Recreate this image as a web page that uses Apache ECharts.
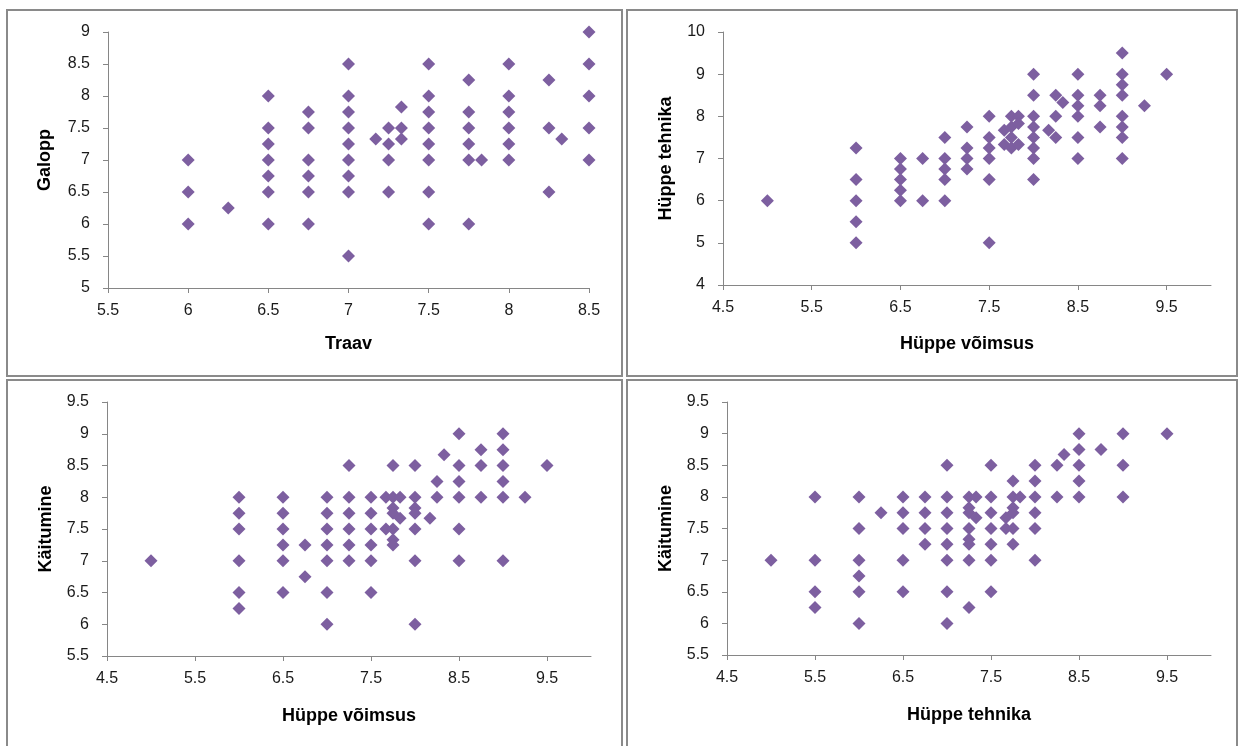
<!DOCTYPE html>
<html>
<head>
<meta charset="utf-8">
<title>Hobuste hinded</title>
<script src="https://cdn.jsdelivr.net/npm/echarts@6/dist/echarts.min.js"></script>
<style>
  html, body { margin: 0; padding: 0; background: #fff; }
  #chart { width: 1239px; height: 746px; }
</style>
</head>
<body>
<div id="chart"></div>
<script>
// Scatter data: [x, y] pairs for each of the four comparisons
const traavGalopp = [
  [6, 7], [6, 6.5], [6, 6],
  [6.25, 6.25],
  [6.5, 8], [6.5, 7.5], [6.5, 7.25], [6.5, 7], [6.5, 6.75], [6.5, 6.5], [6.5, 6],
  [6.75, 7.75], [6.75, 7.5], [6.75, 7], [6.75, 6.75], [6.75, 6.5], [6.75, 6],
  [7, 8.5], [7, 8], [7, 7.75], [7, 7.5], [7, 7.25], [7, 7], [7, 6.75], [7, 6.5], [7, 5.5],
  [7.17, 7.33],
  [7.25, 7.5], [7.25, 7.25], [7.25, 7], [7.25, 6.5],
  [7.33, 7.83], [7.33, 7.5], [7.33, 7.33],
  [7.5, 8.5], [7.5, 8], [7.5, 7.75], [7.5, 7.5], [7.5, 7.25], [7.5, 7], [7.5, 6.5], [7.5, 6],
  [7.75, 8.25], [7.75, 7.75], [7.75, 7.5], [7.75, 7.25], [7.75, 7], [7.75, 6],
  [7.83, 7],
  [8, 8.5], [8, 8], [8, 7.75], [8, 7.5], [8, 7.25], [8, 7],
  [8.25, 8.25], [8.25, 7.5], [8.25, 6.5],
  [8.33, 7.33],
  [8.5, 9], [8.5, 8.5], [8.5, 8], [8.5, 7.5], [8.5, 7]
];

const voimsusTehnika = [
  [5, 6],
  [6, 7.25], [6, 6.5], [6, 6], [6, 5.5], [6, 5],
  [6.5, 7], [6.5, 6.75], [6.5, 6.5], [6.5, 6.25], [6.5, 6],
  [6.75, 7], [6.75, 6],
  [7, 7.5], [7, 7], [7, 6.75], [7, 6.5], [7, 6],
  [7.25, 7.75], [7.25, 7.25], [7.25, 7], [7.25, 6.75],
  [7.5, 8], [7.5, 7.5], [7.5, 7.25], [7.5, 7], [7.5, 6.5], [7.5, 5],
  [7.67, 7.67], [7.67, 7.33],
  [7.75, 8], [7.75, 7.75], [7.75, 7.5], [7.75, 7.25],
  [7.83, 8], [7.83, 7.83], [7.83, 7.33],
  [8, 9], [8, 8.5], [8, 8], [8, 7.75], [8, 7.5], [8, 7.25], [8, 7], [8, 6.5],
  [8.17, 7.67],
  [8.25, 8.5], [8.25, 8], [8.25, 7.5],
  [8.33, 8.33],
  [8.5, 9], [8.5, 8.5], [8.5, 8.25], [8.5, 8], [8.5, 7.5], [8.5, 7],
  [8.75, 8.5], [8.75, 8.25], [8.75, 7.75],
  [9, 9.5], [9, 9], [9, 8.75], [9, 8.5], [9, 8], [9, 7.75], [9, 7.5], [9, 7],
  [9.25, 8.25],
  [9.5, 9]
];

const voimsusKaitumine = [
  [5, 7],
  [6, 8], [6, 7.75], [6, 7.5], [6, 7], [6, 6.5], [6, 6.25],
  [6.5, 8], [6.5, 7.75], [6.5, 7.5], [6.5, 7.25], [6.5, 7], [6.5, 6.5],
  [6.75, 7.25], [6.75, 6.75],
  [7, 8], [7, 7.75], [7, 7.5], [7, 7.25], [7, 7], [7, 6.5], [7, 6],
  [7.25, 8.5], [7.25, 8], [7.25, 7.75], [7.25, 7.5], [7.25, 7.25], [7.25, 7],
  [7.5, 8], [7.5, 7.75], [7.5, 7.5], [7.5, 7.25], [7.5, 7], [7.5, 6.5],
  [7.67, 8], [7.67, 7.5],
  [7.75, 8.5], [7.75, 8], [7.75, 7.83], [7.75, 7.75], [7.75, 7.5], [7.75, 7.33], [7.75, 7.25],
  [7.83, 8], [7.83, 7.67],
  [8, 8.5], [8, 8], [8, 7.83], [8, 7.75], [8, 7.5], [8, 7], [8, 6],
  [8.17, 7.67],
  [8.25, 8.25], [8.25, 8],
  [8.33, 8.67],
  [8.5, 9], [8.5, 8.5], [8.5, 8.25], [8.5, 8], [8.5, 7.5], [8.5, 7],
  [8.75, 8.75], [8.75, 8.5], [8.75, 8],
  [9, 9], [9, 8.75], [9, 8.5], [9, 8.25], [9, 8], [9, 7],
  [9.25, 8],
  [9.5, 8.5]
];

const tehnikaKaitumine = [
  [5, 7],
  [5.5, 8], [5.5, 7], [5.5, 6.5], [5.5, 6.25],
  [6, 8], [6, 7.5], [6, 7], [6, 6.75], [6, 6.5], [6, 6],
  [6.25, 7.75],
  [6.5, 8], [6.5, 7.75], [6.5, 7.5], [6.5, 7], [6.5, 6.5],
  [6.75, 8], [6.75, 7.75], [6.75, 7.5], [6.75, 7.25],
  [7, 8.5], [7, 8], [7, 7.75], [7, 7.5], [7, 7.25], [7, 7], [7, 6.5], [7, 6],
  [7.25, 8], [7.25, 7.83], [7.25, 7.75], [7.25, 7.5], [7.25, 7.33], [7.25, 7.25], [7.25, 7], [7.25, 6.25],
  [7.33, 8], [7.33, 7.67],
  [7.5, 8.5], [7.5, 8], [7.5, 7.75], [7.5, 7.5], [7.5, 7.25], [7.5, 7], [7.5, 6.5],
  [7.67, 7.67], [7.67, 7.5],
  [7.75, 8.25], [7.75, 8], [7.75, 7.83], [7.75, 7.75], [7.75, 7.5], [7.75, 7.25],
  [7.83, 8],
  [8, 8.5], [8, 8.25], [8, 8], [8, 7.75], [8, 7.5], [8, 7],
  [8.25, 8.5], [8.25, 8],
  [8.33, 8.67],
  [8.5, 9], [8.5, 8.75], [8.5, 8.5], [8.5, 8.25], [8.5, 8],
  [8.75, 8.75],
  [9, 9], [9, 8.5], [9, 8],
  [9.5, 9]
];

// Axis titles
const xNames = ['Traav', 'Hüppe võimsus', 'Hüppe võimsus', 'Hüppe tehnika'];
const yNames = ['Galopp', 'Hüppe tehnika', 'Käitumine', 'Käitumine'];

// Labelled tick positions on the score axes that start at 4.5
const scoreTicks = [4.5, 5.5, 6.5, 7.5, 8.5, 9.5];

const MARK = '#7d5fa0';
const AXIS = '#868686';
const LABEL_FONT = 'Liberation Sans, Arial, sans-serif';

const grids = [
  { left: 108, top: 32, width: 481, height: 256 },
  { left: 723, top: 32, width: 488, height: 253 },
  { left: 107, top: 402, width: 484, height: 254 },
  { left: 727, top: 402, width: 484, height: 253 }
];

function xAxis(i, min, max, interval, custom, nameGap) {
  const ax = {
    type: 'value', gridIndex: i, min: min, max: max, interval: interval,
    name: xNames[i], nameLocation: 'middle', nameGap: nameGap,
    nameTextStyle: { fontFamily: LABEL_FONT, fontSize: 18, fontWeight: 'bold', color: '#000' },
    axisLine: { show: true, onZero: false, lineStyle: { color: AXIS, width: 1 } },
    axisTick: { show: true, length: 5, lineStyle: { color: AXIS } },
    axisLabel: { fontFamily: LABEL_FONT, fontSize: 16, color: '#1a1a1a', margin: 15 },
    splitLine: { show: false }
  };
  if (custom) {
    ax.axisTick.customValues = custom;
    ax.axisLabel.customValues = custom;
  }
  return ax;
}

function yAxis(i, min, max, interval, nameGap) {
  return {
    type: 'value', gridIndex: i, min: min, max: max, interval: interval,
    name: yNames[i], nameLocation: 'middle', nameGap: nameGap,
    nameTextStyle: { fontFamily: LABEL_FONT, fontSize: 18, fontWeight: 'bold', color: '#000' },
    axisLine: { show: true, onZero: false, lineStyle: { color: AXIS, width: 1 } },
    axisTick: { show: true, length: 5, lineStyle: { color: AXIS } },
    axisLabel: { fontFamily: LABEL_FONT, fontSize: 16, color: '#1a1a1a', margin: 18 },
    splitLine: { show: false }
  };
}

function scatter(i, data) {
  return {
    type: 'scatter', xAxisIndex: i, yAxisIndex: i, data: data,
    symbol: 'diamond', symbolSize: 13,
    itemStyle: { color: MARK, opacity: 1 },
    silent: true
  };
}

// Panel frames
const frames = [
  { x: 7, y: 10, w: 615, h: 366 },
  { x: 627, y: 10, w: 610, h: 366 },
  { x: 7, y: 380, w: 615, h: 370 },
  { x: 627, y: 380, w: 610, h: 370 }
].map(f => ({
  type: 'rect', silent: true, z: -1,
  shape: { x: f.x, y: f.y, width: f.w, height: f.h },
  style: { fill: 'none', stroke: '#8a8a8a', lineWidth: 2 }
}));

const chart = echarts.init(document.getElementById('chart'), null, { renderer: 'canvas' });
chart.setOption({
  animation: false,
  backgroundColor: '#fff',
  graphic: frames,
  grid: grids,
  xAxis: [
    xAxis(0, 5.5, 8.5, 0.5, null, 47),
    xAxis(1, 4.5, 10, 0.5, scoreTicks, 50),
    xAxis(2, 4.5, 10, 0.5, scoreTicks, 51),
    xAxis(3, 4.5, 10, 0.5, scoreTicks, 51)
  ],
  yAxis: [
    yAxis(0, 5, 9, 0.5, 54),
    yAxis(1, 4, 10, 1, 48),
    yAxis(2, 5.5, 9.5, 0.5, 52),
    yAxis(3, 5.5, 9.5, 0.5, 52)
  ],
  series: [
    scatter(0, traavGalopp),
    scatter(1, voimsusTehnika),
    scatter(2, voimsusKaitumine),
    scatter(3, tehnikaKaitumine)
  ]
});
</script>
</body>
</html>
